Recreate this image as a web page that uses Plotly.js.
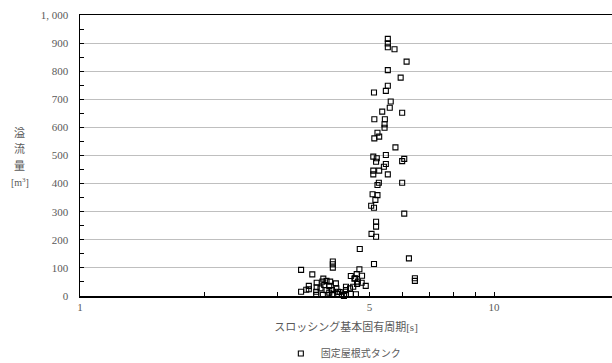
<!DOCTYPE html>
<html>
<head>
<meta charset="utf-8">
<script src="https://cdn.plot.ly/plotly-3.0.1.min.js"></script>
<style>
html,body{margin:0;padding:0;background:#fff;}
#chart{width:612px;height:363px;}
</style>
</head>
<body>
<div id="chart"></div>
<script>
// Sloshing natural period [s]
var periodS = [5.54,5.54,5.54,5.75,6.15,5.54,5.95,5.54,5.48,5.13,
  5.63,5.60,5.37,6.00,5.14,5.45,5.44,5.44,5.23,5.28,
  5.14,5.78,5.48,5.11,5.21,5.19,6.07,6.00,5.48,5.42,
  5.11,5.28,5.54,5.11,5.27,5.23,6.00,5.09,5.23,5.17,
  5.05,5.13,6.07,5.19,5.19,5.06,5.19,4.74,6.23,5.13,
  4.08,4.08,4.08,3.42,3.64,4.73,4.66,4.51,4.80,4.60,
  6.44,6.44,4.79,4.67,4.90,4.57,3.87,3.94,3.85,4.02,
  3.73,4.15,3.89,4.00,3.57,3.57,3.73,3.81,4.16,4.39,
  4.39,4.49,3.42,3.72,3.72,4.00,4.09,4.18,4.29,4.39,
  4.51,4.64,3.94,4.06,4.20,3.52,4.69,4.62,3.86,4.24,
  4.34];
// Overflow volume [m3]
var overflowM3 = [915,899,885,878,834,804,777,748,730,724,
  692,670,656,652,629,629,611,599,581,567,
  561,529,502,496,490,478,488,480,470,460,
  446,446,433,433,403,395,403,362,359,342,
  321,314,293,264,247,221,211,167,134,114,
  123,113,101,93,77,95,78,71,72,62,
  63,54,47,43,36,33,62,54,51,51,
  47,45,39,36,36,24,31,27,27,33,
  21,27,15,15,4,12,7,7,4,7,
  7,6,21,21,15,22,51,63,4,14,
  0];

var seriesName = '固定屋根式タンク';
var xTickVals = [1,2,3,4,5,6,7,8,9,10,20];
var xTickText = ['1','','','','5','','','','','10',''];
var yTickVals = [0,100,200,300,400,500,600,700,800,900,1000];
var yTickText = ['0','100','200','300','400','500','600','700','800','900','1, 000'];
var yTitleLines = ['溢','流','量','[m<sup>3</sup>]'];

var fontFam = "'Liberation Serif','Noto Sans CJK JP',serif";
var textGray = '#595959';

var trace = {
  x: periodS, y: overflowM3, type: 'scatter', mode: 'markers', name: seriesName,
  marker: {symbol: 'square-open', size: 5, color: '#000', line: {width: 1.1, color: '#000'}},
  cliponaxis: false
};

var yTitlePos = [0.580, 0.523, 0.463, 0.404];
var annotations = yTitleLines.map(function (t, i) {
  return {
    xref: 'paper', yref: 'paper', x: -0.113, y: yTitlePos[i], xanchor: 'center', yanchor: 'middle',
    text: t, showarrow: false, align: 'center',
    font: {family: fontFam, size: i < 3 ? 11 : 10, color: textGray}
  };
});

var layout = {
  width: 612, height: 363,
  margin: {l: 80, r: 0, t: 15, b: 67, autoexpand: false},
  paper_bgcolor: '#fff', plot_bgcolor: '#fff',
  font: {family: fontFam, size: 11, color: textGray},
  showlegend: true,
  legend: {orientation: 'h', x: 0.495, xanchor: 'center', yref: 'container', y: 0.066, yanchor: 'top',
    font: {family: fontFam, size: 10, color: textGray}, itemwidth: 30, tracegroupgap: 0},
  xaxis: {
    type: 'log', range: [0, 1.285], tickmode: 'array', tickvals: xTickVals, ticktext: xTickText,
    ticks: 'inside', ticklen: 4, tickcolor: '#000', showgrid: false, zeroline: false,
    showline: true, linecolor: '#000', linewidth: 1.5, mirror: true, automargin: false,
    tickfont: {family: fontFam, size: 11, color: textGray},
    title: {text: 'スロッシング基本固有周期[s]', standoff: 11, font: {family: fontFam, size: 11, color: textGray}}
  },
  yaxis: {
    range: [0, 1000], tickmode: 'array', tickvals: yTickVals, ticktext: yTickText,
    ticks: 'inside', ticklen: 4, tickcolor: '#000', automargin: false,
    minor: {tickmode: 'linear', dtick: 50, ticks: 'inside', ticklen: 4, tickcolor: '#000', showgrid: false},
    showgrid: true, gridcolor: '#bfbfbf', gridwidth: 1, zeroline: false,
    showline: true, linecolor: '#000', linewidth: 1.5,
    tickfont: {family: fontFam, size: 11, color: textGray}, ticklabelstandoff: 8
  },
  annotations: annotations
};

Plotly.newPlot('chart', [trace], layout, {displayModeBar: false, staticPlot: true});
</script>
</body>
</html>
